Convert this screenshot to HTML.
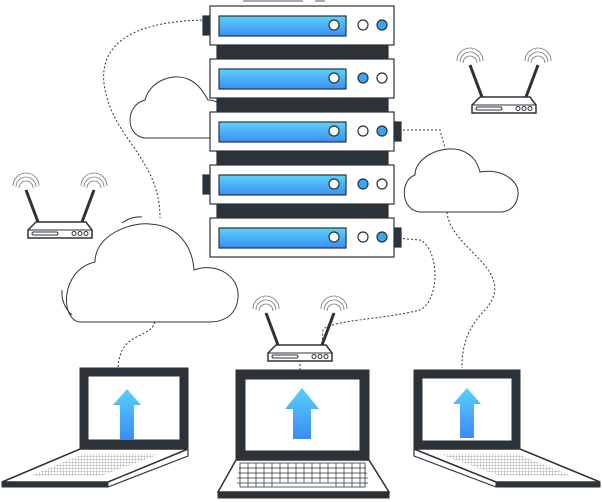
<!DOCTYPE html>
<html><head><style>body{margin:0;background:#fff}svg{display:block}</style></head><body>
<svg width="602" height="502" viewBox="0 0 602 502" xmlns="http://www.w3.org/2000/svg">
<defs>
<linearGradient id="g" x1="0" y1="0" x2="0" y2="1"><stop offset="0" stop-color="#5cd3fb"/><stop offset="1" stop-color="#3a8ef5"/></linearGradient>
<linearGradient id="ga" x1="0" y1="0" x2="0" y2="1"><stop offset="0" stop-color="#58d0fb"/><stop offset="1" stop-color="#3b8cf5"/></linearGradient>
<pattern id="hatch" width="3" height="3" patternUnits="userSpaceOnUse"><rect width="3" height="3" fill="#fff"/><path d="M0 0h3M0 0v3" stroke="#999" stroke-width="0.8"/></pattern>
<g id="router">
<path d="M8 0 L58 0 L64 8 L64 16 L0 16 L0 8 Z" fill="#fff" stroke="#2b3238" stroke-width="1.5"/>
<line x1="0" y1="8" x2="64" y2="8" stroke="#2b3238" stroke-width="1"/>
<rect x="4" y="10" width="26" height="3" rx="1.5" fill="none" stroke="#2b3238"/>
<circle cx="46" cy="11.5" r="2" fill="none" stroke="#2b3238"/><circle cx="52" cy="11.5" r="2" fill="none" stroke="#2b3238"/><circle cx="58" cy="11.5" r="2" fill="none" stroke="#2b3238"/>
<line x1="10" y1="0" x2="-2" y2="-32" stroke="#2b3238" stroke-width="3"/>
<line x1="54" y1="0" x2="66" y2="-32" stroke="#2b3238" stroke-width="3"/>
<g fill="none" stroke="#777" stroke-width="0.8">
<path d="M-9 -34 a7 7 0 0 1 14 0"/><path d="M-12 -35 a10 10 0 0 1 20 0"/><path d="M-15 -36 a13 13 0 0 1 26 0"/>
<path d="M59 -34 a7 7 0 0 1 14 0"/><path d="M56 -35 a10 10 0 0 1 20 0"/><path d="M53 -36 a13 13 0 0 1 26 0"/>
</g>
</g>
</defs>
<g fill="none" stroke="#333" stroke-width="1" stroke-dasharray="2 2">
<path d="M210 20 C140 20 95 40 105 90 C115 140 160 160 160 218"/>
<path d="M395 130 L440 130 L445 148"/>
<path d="M447 212 C450 250 520 270 485 310 C465 330 462 350 462 368"/>
<path d="M395 238 L420 240 C440 250 440 300 420 310 C380 320 330 320 323 330 L322 345"/>
<path d="M300 360 L300 370"/>
<path d="M155 322 C150 340 120 330 118 368"/>
</g>
<g fill="#fff" stroke="#333" stroke-width="1">
<path d="M80 322 C60 320 60 270 95 262 C95 235 130 222 150 224 C185 226 193 255 194 270 C215 262 240 275 238 298 C236 318 220 322 210 322 Z"/>
<path d="M145 138 C125 136 125 105 145 100 C150 80 175 72 190 80 C200 85 205 95 208 100 C225 100 228 120 225 128 C222 136 215 138 210 138 Z"/>
<path d="M420 212 C400 210 400 180 415 175 C415 158 440 145 460 150 C475 155 478 165 480 172 C500 168 520 180 518 195 C516 210 505 212 500 212 Z"/>
</g>
<g stroke="#333" fill="none"><path d="M122 223 a30 30 0 0 1 20 -6"/><path d="M62 290 a30 30 0 0 0 10 25"/></g>
<g stroke="#2b3238" stroke-width="1.2">
<rect x="217" y="45" width="171" height="14" fill="#2b3238"/>
<rect x="217" y="98" width="171" height="14" fill="#2b3238"/>
<rect x="217" y="151" width="171" height="14" fill="#2b3238"/>
<rect x="217" y="204" width="171" height="14" fill="#2b3238"/>
<rect x="203" y="16" width="8" height="19" fill="#2b3238"/>
<rect x="394" y="122" width="7" height="19" fill="#2b3238"/>
<rect x="203" y="175" width="8" height="19" fill="#2b3238"/>
<rect x="394" y="228" width="7" height="19" fill="#2b3238"/>
</g>
<g stroke="#2b3238" stroke-width="1.2">
<rect x="210" y="6" width="184" height="39" fill="#fff"/><rect x="219" y="16" width="127" height="20" fill="url(#g)"/>
<circle cx="334" cy="25" r="5" fill="#fff"/><circle cx="363" cy="25" r="5" fill="#fff"/><circle cx="382" cy="25" r="5" fill="#3aa5f5"/>
<rect x="210" y="59" width="184" height="39" fill="#fff"/><rect x="219" y="69" width="127" height="20" fill="url(#g)"/>
<circle cx="334" cy="78" r="5" fill="#fff"/><circle cx="363" cy="78" r="5" fill="#3aa5f5"/><circle cx="382" cy="78" r="5" fill="#fff"/>
<rect x="210" y="112" width="184" height="39" fill="#fff"/><rect x="219" y="122" width="127" height="20" fill="url(#g)"/>
<circle cx="334" cy="131" r="5" fill="#fff"/><circle cx="363" cy="131" r="5" fill="#fff"/><circle cx="382" cy="131" r="5" fill="#3aa5f5"/>
<rect x="210" y="165" width="184" height="39" fill="#fff"/><rect x="219" y="175" width="127" height="20" fill="url(#g)"/>
<circle cx="334" cy="184" r="5" fill="#fff"/><circle cx="363" cy="184" r="5" fill="#3aa5f5"/><circle cx="382" cy="184" r="5" fill="#fff"/>
<rect x="210" y="218" width="184" height="39" fill="#fff"/><rect x="219" y="228" width="127" height="20" fill="url(#g)"/>
<circle cx="334" cy="237" r="5" fill="#fff"/><circle cx="363" cy="237" r="5" fill="#fff"/><circle cx="382" cy="237" r="5" fill="#3aa5f5"/>
</g>
<rect x="243" y="0" width="60" height="2" fill="#aaa"/><rect x="315" y="0" width="10" height="2" fill="#aaa"/>
<use href="#router" x="28" y="222"/>
<use href="#router" x="472" y="97"/>
<use href="#router" x="268" y="345"/>
<g stroke="#2b3238">
<!-- left laptop -->
<rect x="80" y="368" width="108" height="80" fill="#2b3238"/><rect x="88" y="376" width="92" height="64" fill="#fff"/>
<path d="M80 449 L188 449 L108 482 L2 482 Z" fill="#fff" stroke-width="1.5"/>
<path d="M82 454 L160 454 L100 476 L30 476 Z" fill="url(#hatch)" stroke="none"/>
<rect x="2" y="482" width="106" height="5" fill="#2b3238"/>
<path d="M188 449 L188 456 L108 487" fill="none" stroke-width="1.2"/>
<!-- right laptop -->
<rect x="414" y="370" width="106" height="79" fill="#2b3238"/><rect x="422" y="378" width="90" height="63" fill="#fff"/>
<path d="M414 449 L520 449 L600 482 L496 482 Z" fill="#fff" stroke-width="1.5"/>
<path d="M440 454 L518 454 L572 476 L500 476 Z" fill="url(#hatch)" stroke="none"/>
<rect x="496" y="482" width="104" height="5" fill="#2b3238"/>
<path d="M414 449 L414 456 L496 487" fill="none" stroke-width="1.2"/>
<!-- center laptop -->
<rect x="236" y="370" width="133" height="89" fill="#2b3238"/><rect x="245" y="379" width="115" height="72" fill="#fff"/>
<path d="M236 460 L369 460 L389 492 L218 492 Z" fill="#fff" stroke-width="1.5"/>
<rect x="240" y="463" width="125" height="24" fill="none" stroke-width="0.8"/>
<g stroke-width="0.7"><line x1="239" y1="468" x2="366" y2="468"/><line x1="238" y1="473" x2="367" y2="473"/><line x1="237" y1="478" x2="368" y2="478"/><line x1="237" y1="483" x2="368" y2="483"/></g>
<g stroke-width="0.7">
<path d="M248 463 v24 M256 463 v24 M264 463 v24 M272 463 v24 M280 463 v20 M288 463 v20 M296 463 v20 M304 463 v20 M312 463 v20 M320 463 v20 M328 463 v20 M336 463 v24 M344 463 v24 M352 463 v24 M360 463 v24"/>
</g>
<rect x="218" y="493" width="171" height="5" fill="#2b3238"/>
</g>
<path d="M127 389 L141 405 L134 405 L134 440 L120 440 L120 405 L113 405 Z" fill="url(#ga)"/>
<path d="M302 388 L319 409 L311 409 L311 439 L293 439 L293 409 L285 409 Z" fill="url(#ga)"/>
<path d="M467 388 L481 404 L474 404 L474 438 L460 438 L460 404 L453 404 Z" fill="url(#ga)"/>
</svg>
</body></html>
